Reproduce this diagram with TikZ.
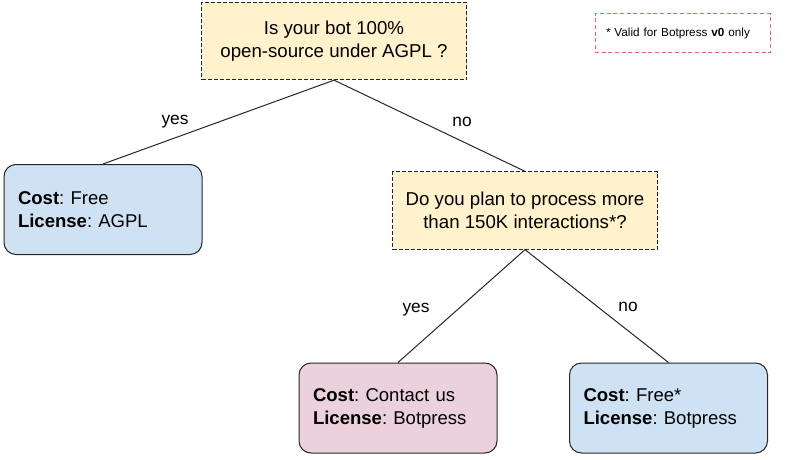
\documentclass[tikz,border=0pt]{standalone}
\usepackage{fontspec}
\setmainfont{Liberation Sans}
\frenchspacing
\definecolor{askfill}{RGB}{255,242,204}
\definecolor{freefill}{RGB}{207,226,243}
\definecolor{paidfill}{RGB}{234,209,220}
\definecolor{noteline}{RGB}{224,102,102}
\begin{document}
\begin{tikzpicture}[x=0.75pt,y=0.75pt,yscale=-1,xscale=1,
  ask/.style={draw=black!85,line width=0.75pt,dash pattern={on 3pt off 1.5pt},fill=askfill,
    minimum width=198.75pt,minimum height=58pt,align=center,font=\fontsize{14}{17.5}\selectfont},
  answer/.style={draw=black!85,line width=0.75pt,rounded corners=9pt,
    text width=127.5pt,inner xsep=10.5pt,minimum height=67.5pt,align=left,
    font=\fontsize{13.9}{17.25}\selectfont},
  branch/.style={inner sep=0.75pt,font=\fontsize{13}{15}\selectfont},
  wire/.style={draw=black!85,line width=0.75pt}]
%set diagram left start at 0, and has size 789x460
\useasboundingbox (0,0) rectangle (789,460);

% Text Node
\draw (334,41) node (agpl) [ask] {\raisebox{-2pt}{Is your bot 100\%}\\\raisebox{-2pt}{open-source under AGPL ?}};
% Text Node
\draw (525,210.5) node (volume) [ask] {Do you plan to process more\\than 150K interactions*?};
% Text Node
\draw (103,209.5) node (agplfree) [answer,fill=freefill] {\textbf{Cost}: Free\\\textbf{License}: AGPL};
% Text Node
\draw (398,408) node (contact) [answer,fill=paidfill] {\textbf{Cost}: Contact us\\\textbf{License}: Botpress};
% Text Node
\draw (668.5,408) node (botfree) [answer,fill=freefill] {\textbf{Cost}: Free*\\\textbf{License}: Botpress};
% Text Node
\draw (682.5,33.5) node (note) [draw=noteline,line width=0.75pt,dash pattern={on 3pt off 2pt},
  minimum width=131.25pt,minimum height=29.25pt,text width=114.75pt,inner xsep=8.25pt,
  align=left,font=\fontsize{8.8}{10}\selectfont] {* Valid for Botpress \textbf{v0} only};
% Text Node
\draw (175,122) node (yesa) [branch] {yes};
% Text Node
\draw (462,122) node (noa) [branch] {no};
% Text Node
\draw (416,310) node (yesb) [branch] {yes};
% Text Node
\draw (628,307) node (nob) [branch] {no};
% Connection
\draw [wire]  (agpl.south) -- (agplfree.north) ;
% Connection
\draw [wire]  (agpl.south) -- (volume.north) ;
% Connection
\draw [wire]  (volume.south) -- (contact.north) ;
% Connection
\draw [wire]  (volume.south) -- (botfree.north) ;

\end{tikzpicture}
\end{document}
